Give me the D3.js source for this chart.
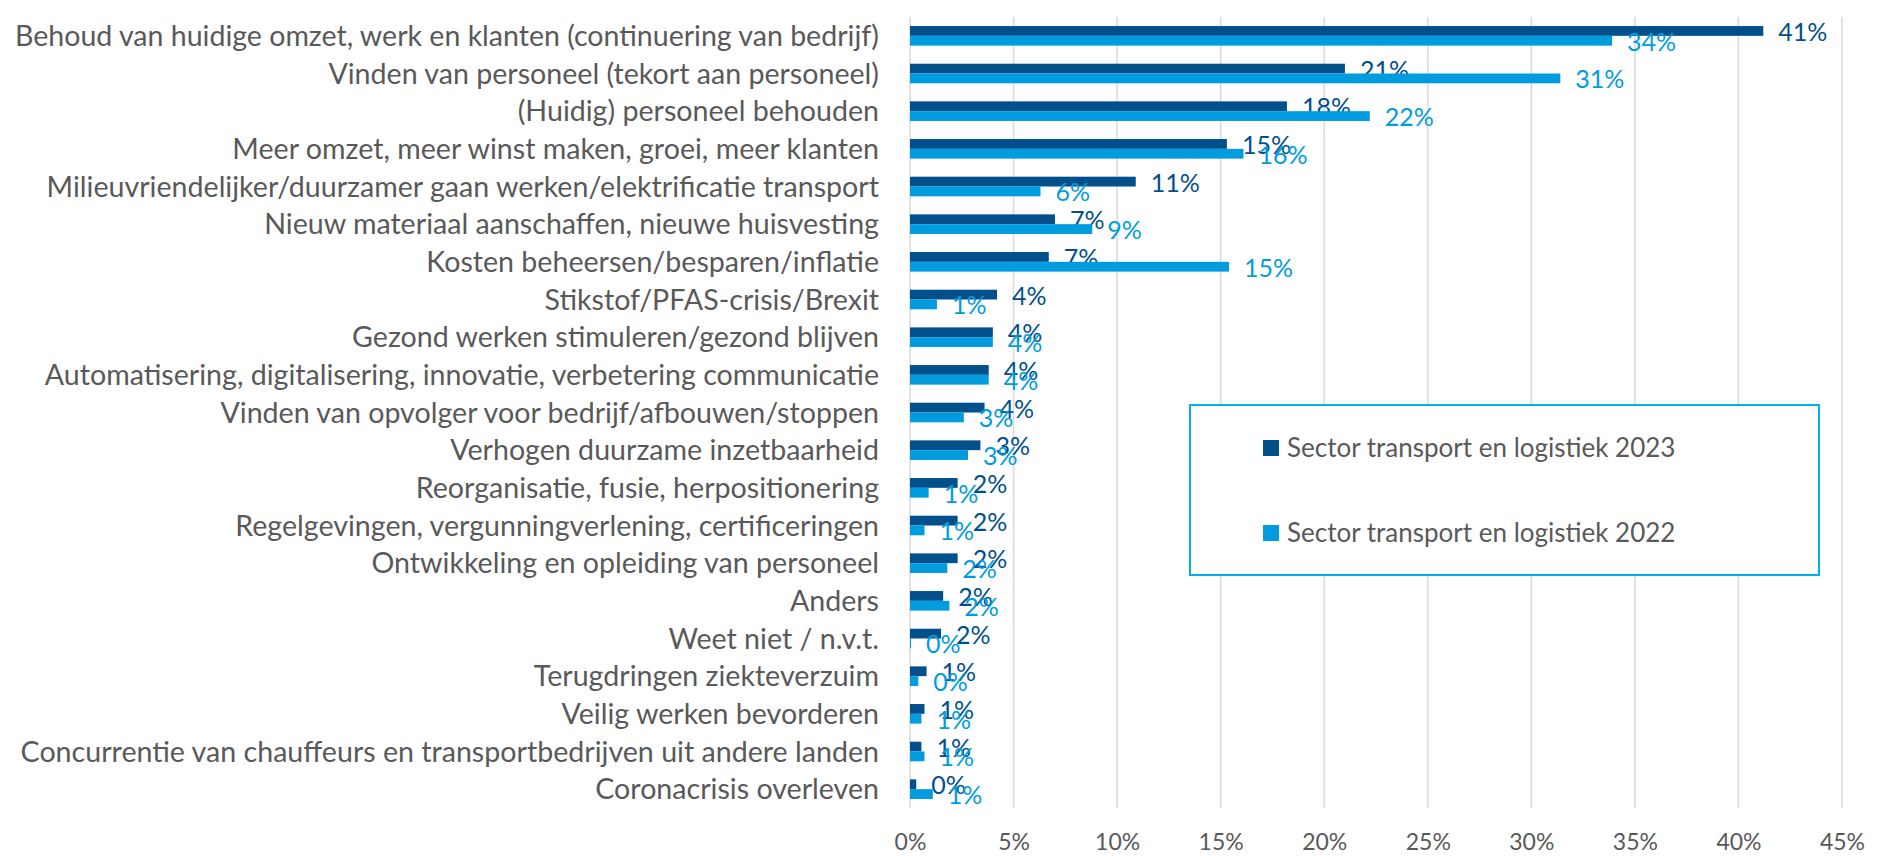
<!DOCTYPE html>
<html>
<head>
<meta charset="utf-8">
<script src="https://cdn.jsdelivr.net/npm/d3@7"></script>
<style>
  body { margin: 0; background: #fff; }
  svg { display: block; font-family: Lato, "Open Sans", sans-serif; }
</style>
</head>
<body>
<svg id="screen" width="1895" height="856"></svg>
<script>
// categories, top to bottom
var categories = [
  "Behoud van huidige omzet, werk en klanten (continuering van bedrijf)",
  "Vinden van personeel (tekort aan personeel)",
  "(Huidig) personeel behouden",
  "Meer omzet, meer winst maken, groei, meer klanten",
  "Milieuvriendelijker/duurzamer gaan werken/elektrificatie transport",
  "Nieuw materiaal aanschaffen, nieuwe huisvesting",
  "Kosten beheersen/besparen/inflatie",
  "Stikstof/PFAS-crisis/Brexit",
  "Gezond werken stimuleren/gezond blijven",
  "Automatisering, digitalisering, innovatie, verbetering communicatie",
  "Vinden van opvolger voor bedrijf/afbouwen/stoppen",
  "Verhogen duurzame inzetbaarheid",
  "Reorganisatie, fusie, herpositionering",
  "Regelgevingen, vergunningverlening, certificeringen",
  "Ontwikkeling en opleiding van personeel",
  "Anders",
  "Weet niet / n.v.t.",
  "Terugdringen ziekteverzuim",
  "Veilig werken bevorderen",
  "Concurrentie van chauffeurs en transportbedrijven uit andere landen",
  "Coronacrisis overleven"
];
var v2023 = [41.2, 21.0, 18.2, 15.3, 10.9, 7.0, 6.7, 4.2, 4.0, 3.8, 3.6, 3.4, 2.3, 2.3, 2.3, 1.6, 1.5, 0.8, 0.7, 0.55, 0.3];
var v2022 = [33.9, 31.4, 22.2, 16.1, 6.3, 8.8, 15.4, 1.3, 4.0, 3.8, 2.6, 2.8, 0.9, 0.7, 1.8, 1.9, 0.05, 0.4, 0.55, 0.7, 1.1];
var seriesNames = ["Sector transport en logistiek 2023", "Sector transport en logistiek 2022"];
var xTicks = [0, 5, 10, 15, 20, 25, 30, 35, 40, 45];

var colors = ["#01508B", "#009CDE"];
var textGray = "#595959";

var svg = d3.select("#screen");

var x = d3.scaleLinear().domain([0, 45]).range([910, 1842]);
var y = d3.scaleBand().domain(categories).range([17, 808]).paddingInner(0.48).paddingOuter(0.24);
var ySub = d3.scaleBand().domain([0, 1]).range([0, y.bandwidth()]);

// gridlines
svg.append("g").selectAll("line").data(xTicks).enter().append("line")
  .attr("x1", function(d) { return x(d); })
  .attr("x2", function(d) { return x(d); })
  .attr("y1", 17).attr("y2", 808)
  .attr("stroke", "#D9D9D9").attr("stroke-width", 1.5);

// x axis labels
var xAxis = d3.axisBottom(x).tickValues(xTicks).tickSize(0).tickPadding(0)
  .tickFormat(function(d) { return d + "%"; });
var gx = svg.append("g").attr("transform", "translate(0,834)").call(xAxis);
gx.select(".domain").remove();
gx.selectAll("text").attr("font-size", 23).attr("fill", textGray)
  .attr("font-family", "Lato, sans-serif").attr("dy", "0.7em");

// category labels
var labels = svg.append("g").selectAll("text").data(categories).enter().append("text")
  .attr("x", 879)
  .attr("y", function(d) { return y(d) + y.bandwidth() / 2; })
  .attr("dy", "0.36em")
  .attr("text-anchor", "end")
  .attr("font-size", 28.6)
  .attr("fill", textGray)
  .text(function(d) { return d; });
labels.each(function() {
  if (this.getComputedTextLength() > 864) {
    d3.select(this).attr("textLength", 864).attr("lengthAdjust", "spacingAndGlyphs");
  }
});

// bars + value labels
var series = [v2023, v2022];
series.forEach(function(vals, s) {
  var rows = categories.map(function(c, i) { return { cat: c, v: vals[i] }; });
  var g = svg.append("g");
  g.selectAll("rect").data(rows).enter().append("rect")
    .attr("x", x(0))
    .attr("y", function(d) { return y(d.cat) + ySub(s); })
    .attr("width", function(d) { return x(d.v) - x(0); })
    .attr("height", ySub.bandwidth())
    .attr("fill", colors[s]);
  g.selectAll("text").data(rows).enter().append("text")
    .attr("x", function(d) { return x(d.v) + 15; })
    .attr("y", function(d) { return y(d.cat) + ySub(s) + ySub.bandwidth() / 2 + 1; })
    .attr("dy", "0.36em")
    .attr("font-size", 25)
    .attr("fill", colors[s])
    .text(function(d) { return Math.round(d.v) + "%"; });
});

// legend
var lg = svg.append("g");
lg.append("rect").attr("x", 1190).attr("y", 405).attr("width", 629).attr("height", 170)
  .attr("fill", "#fff").attr("stroke", "#00B0F0").attr("stroke-width", 2);
seriesNames.forEach(function(name, i) {
  var cy = 448 + i * 85;
  lg.append("rect").attr("x", 1263).attr("y", cy - 8).attr("width", 16).attr("height", 16)
    .attr("fill", colors[i]);
  lg.append("text").attr("x", 1287).attr("y", cy).attr("dy", "0.36em")
    .attr("font-size", 26).attr("fill", textGray).text(name);
});
</script>
</body>
</html>
